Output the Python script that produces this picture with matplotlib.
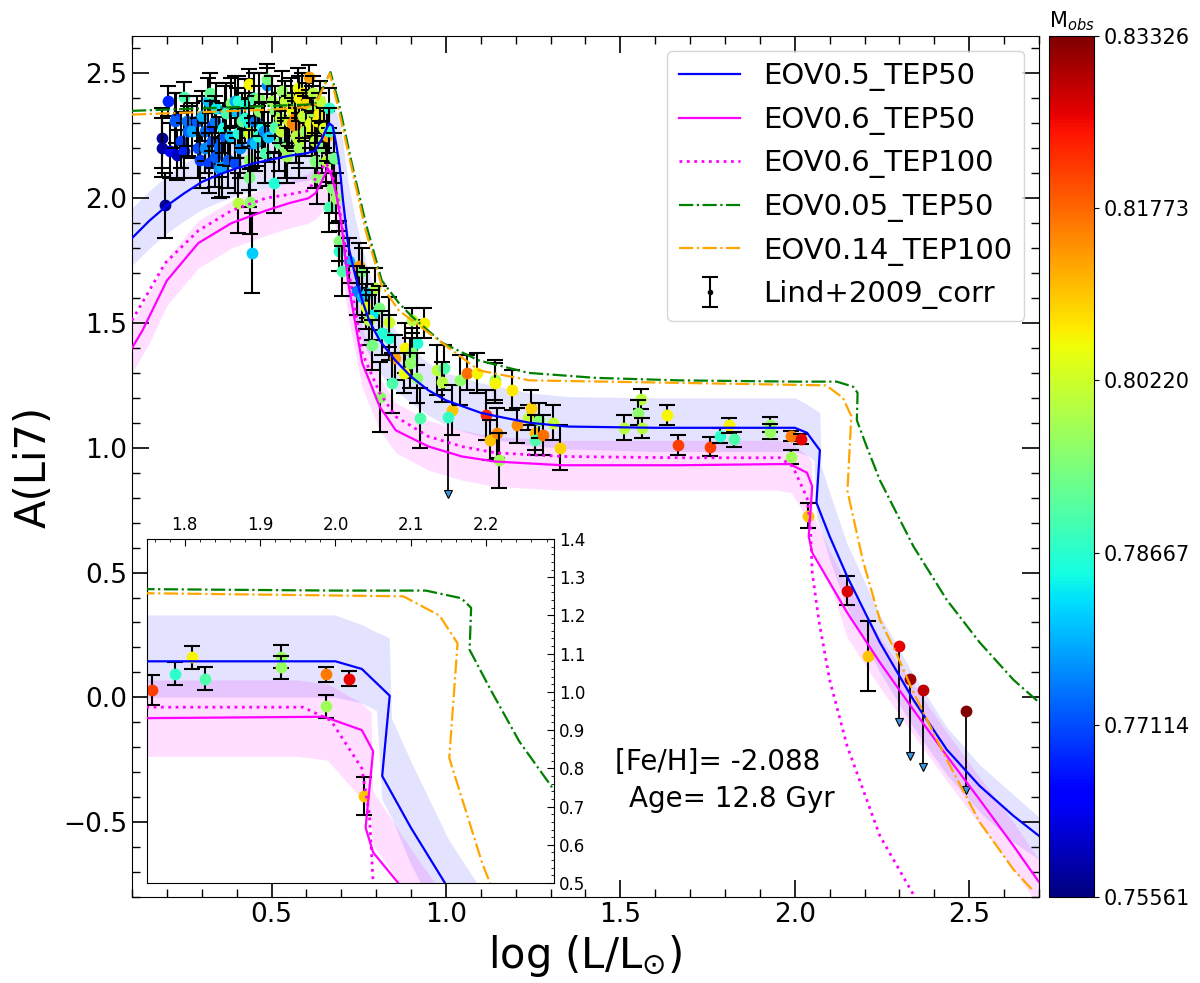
import numpy as np
import matplotlib
matplotlib.use('Agg')
import matplotlib.pyplot as plt
from matplotlib.ticker import MultipleLocator
from matplotlib.colors import Normalize
from matplotlib.cm import ScalarMappable

# ---- model tracks (log L, A(Li7)) ----
x_eov05 = [0.10, 0.15, 0.20, 0.25, 0.30, 0.35, 0.40, 0.45, 0.50, 0.55, 0.60, 0.625, 0.645, 0.665, 0.675,
           0.685, 0.695, 0.705, 0.72, 0.74, 0.76, 0.78, 0.81, 0.855, 0.90, 0.95, 1.00, 1.05, 1.10, 1.15,
           1.24, 1.35, 1.60, 1.80, 2.00, 2.035, 2.072, 2.062, 2.10, 2.15, 2.244, 2.34, 2.436, 2.53, 2.627, 2.70]
y_eov05 = [1.84, 1.91, 1.97, 2.02, 2.065, 2.095, 2.12, 2.14, 2.155, 2.17, 2.18, 2.19, 2.24, 2.30, 2.29,
           2.22, 2.13, 1.99, 1.81, 1.69, 1.59, 1.51, 1.43, 1.35, 1.285, 1.23, 1.19, 1.165, 1.14, 1.125,
           1.10, 1.085, 1.08, 1.08, 1.08, 1.06, 0.99, 0.78, 0.645, 0.485, 0.22, -0.01, -0.21, -0.355, -0.475, -0.555]

band05_x = [0.10, 0.15, 0.20, 0.25, 0.30, 0.35, 0.40, 0.45, 0.50, 0.55, 0.60, 0.625, 0.645, 0.665, 0.675,
            0.685, 0.695, 0.705, 0.72, 0.74, 0.76, 0.78, 0.81, 0.855, 0.90, 0.95, 1.00, 1.05, 1.10, 1.15,
            1.24, 1.35, 1.60, 1.80, 2.00, 2.035, 2.055, 2.062, 2.072, 2.075, 2.10, 2.15, 2.244, 2.34,
            2.436, 2.53, 2.627, 2.70]
band05_hi = [1.96, 2.03, 2.09, 2.14, 2.18, 2.21, 2.24, 2.26, 2.27, 2.29, 2.30, 2.31, 2.34, 2.38, 2.38,
             2.35, 2.30, 2.22, 2.06, 1.92, 1.80, 1.70, 1.58, 1.47, 1.40, 1.34, 1.30, 1.28, 1.26, 1.245,
             1.22, 1.205, 1.20, 1.20, 1.20, 1.175, 1.155, 1.15, 1.14, 0.93, 0.82, 0.615, 0.33, 0.09,
             -0.12, -0.27, -0.39, -0.48]
band05_lo = [1.73, 1.80, 1.86, 1.91, 1.955, 1.985, 2.01, 2.03, 2.045, 2.06, 2.07, 2.08, 2.12, 2.18, 2.16,
             2.07, 1.95, 1.80, 1.60, 1.50, 1.43, 1.37, 1.30, 1.23, 1.18, 1.13, 1.09, 1.065, 1.045, 1.03,
             1.01, 0.995, 0.985, 0.985, 0.985, 0.97, 0.95, 0.72, 0.68, 0.67, 0.55, 0.36, 0.10, -0.12,
             -0.31, -0.46, -0.58, -0.65]

x_eov06 = [0.10, 0.13, 0.20, 0.29, 0.385, 0.483, 0.55, 0.606, 0.626, 0.645, 0.661, 0.672, 0.685, 0.70,
           0.72, 0.74, 0.76, 0.81, 0.856, 0.95, 1.046, 1.14, 1.333, 1.67, 1.985, 2.035, 2.05, 2.040,
           2.05, 2.15, 2.244, 2.34, 2.436, 2.53, 2.627, 2.70]
y_eov06 = [1.40, 1.47, 1.67, 1.82, 1.90, 1.95, 1.98, 2.00, 2.02, 2.07, 2.12, 2.09, 2.02, 1.90,
           1.66, 1.50, 1.34, 1.165, 1.07, 1.005, 0.965, 0.945, 0.93, 0.93, 0.935, 0.90, 0.845, 0.645,
           0.58, 0.34, 0.14, -0.05, -0.235, -0.41, -0.595, -0.74]

band06_x = [0.10, 0.15, 0.20, 0.29, 0.385, 0.483, 0.55, 0.606, 0.63, 0.66, 0.675, 0.69, 0.70, 0.72,
            0.74, 0.76, 0.81, 0.856, 0.95, 1.046, 1.14, 1.333, 1.67, 1.95, 1.99, 2.035, 2.048, 2.05,
            2.10, 2.15, 2.244, 2.34, 2.436, 2.53, 2.627, 2.70]
band06_hi = [1.50, 1.62, 1.76, 1.91, 1.99, 2.04, 2.07, 2.10, 2.13, 2.20, 2.19, 2.10, 2.02, 1.82,
             1.65, 1.48, 1.28, 1.18, 1.11, 1.07, 1.045, 1.03, 1.03, 1.03, 1.02, 0.97, 0.945, 0.74,
             0.59, 0.45, 0.24, 0.05, -0.14, -0.32, -0.50, -0.65]
band06_lo = [1.30, 1.42, 1.57, 1.72, 1.80, 1.85, 1.88, 1.90, 1.92, 1.97, 1.96, 1.82, 1.72, 1.52,
             1.38, 1.24, 1.07, 0.98, 0.91, 0.87, 0.845, 0.83, 0.83, 0.83, 0.82, 0.72, 0.66, 0.60,
             0.46, 0.24, 0.04, -0.15, -0.335, -0.51, -0.69, -0.84]

x_eov06_t100 = [0.10, 0.195, 0.29, 0.385, 0.483, 0.55, 0.606, 0.635, 0.655, 0.672, 0.69, 0.72, 0.76,
                0.81, 0.856, 0.95, 1.046, 1.14, 1.333, 1.67, 1.957, 1.994, 2.035, 2.045, 2.05, 2.07,
                2.10, 2.15, 2.244, 2.34]
y_eov06_t100 = [1.51, 1.74, 1.87, 1.95, 2.00, 2.015, 2.03, 2.10, 2.14, 2.11, 2.00, 1.72, 1.38,
                1.22, 1.125, 1.045, 1.005, 0.98, 0.965, 0.96, 0.96, 0.925, 0.80, 0.68, 0.50, 0.30,
                0.07, -0.195, -0.555, -0.79]

x_eov005 = [0.10, 0.20, 0.30, 0.40, 0.50, 0.60, 0.626, 0.669, 0.693, 0.73, 0.77, 0.816, 0.865, 0.903,
            0.99, 1.094, 1.237, 1.43, 1.67, 2.00, 2.12, 2.167, 2.18, 2.178, 2.206, 2.244, 2.34, 2.436,
            2.53, 2.627, 2.70]
y_eov005 = [2.35, 2.355, 2.36, 2.365, 2.37, 2.375, 2.38, 2.505, 2.38, 2.14, 1.90, 1.67, 1.58, 1.525,
            1.42, 1.35, 1.30, 1.28, 1.27, 1.265, 1.265, 1.245, 1.22, 1.11, 1.005, 0.87, 0.605, 0.39,
            0.22, 0.07, -0.02]

x_eov014 = [0.10, 0.20, 0.30, 0.40, 0.50, 0.60, 0.626, 0.667, 0.69, 0.73, 0.77, 0.816, 0.865, 0.951,
            1.095, 1.24, 1.67, 2.09, 2.138, 2.162, 2.151, 2.195, 2.244, 2.29, 2.34, 2.436, 2.53, 2.627,
            2.68]
y_eov014 = [2.335, 2.34, 2.345, 2.35, 2.355, 2.365, 2.375, 2.50, 2.37, 2.12, 1.87, 1.65, 1.55, 1.46,
            1.31, 1.27, 1.26, 1.25, 1.20, 1.127, 0.827, 0.55, 0.31, 0.18, 0.02, -0.25, -0.50, -0.69,
            -0.77]

# ---- Lind+2009 (corrected) ----
obs_logL = [0.185, 0.185, 0.196, 0.204, 0.209, 0.228, 0.225, 0.224, 0.241, 0.248, 0.248, 0.258, 0.260,
            0.273, 0.287, 0.290, 0.296, 0.300, 0.309, 0.310, 0.319, 0.320, 0.324, 0.329, 0.330, 0.338,
            0.339, 0.340, 0.348, 0.348, 0.357, 0.360, 0.368, 0.368, 0.370, 0.376, 0.380, 0.385, 0.395,
            0.396, 0.400, 0.405, 0.405, 0.405, 0.410, 0.415, 0.424, 0.425, 0.434, 0.434, 0.434, 0.434,
            0.434, 0.439, 0.445, 0.445, 0.450, 0.453, 0.454, 0.460, 0.463, 0.465, 0.472, 0.477, 0.480,
            0.487, 0.487, 0.491, 0.500, 0.506, 0.510, 0.511, 0.520, 0.525, 0.526, 0.530, 0.539, 0.540,
            0.545, 0.549, 0.555, 0.558, 0.560, 0.568, 0.568, 0.570, 0.575, 0.578, 0.578, 0.580, 0.587,
            0.590, 0.595, 0.597, 0.600, 0.607, 0.610, 0.615, 0.617, 0.620, 0.626, 0.626, 0.630, 0.631,
            0.635, 0.640, 0.646, 0.650, 0.655, 0.660, 0.665, 0.665, 0.665, 0.674, 0.680, 0.684,
            0.693, 0.693, 0.702, 0.721, 0.750, 0.760, 0.745, 0.760, 0.774, 0.798, 0.808, 0.770, 0.788,
            0.779, 0.836, 0.817, 0.836, 0.855, 0.788, 0.812, 0.884, 0.918, 0.903, 0.898, 0.879, 0.918,
            0.846, 0.937, 0.903, 0.927, 0.975, 0.995, 0.988, 1.017, 1.040, 1.060, 1.090, 1.140, 1.140,
            1.188, 1.115, 1.127, 1.146, 1.151, 1.205, 1.235, 1.245, 1.256, 1.256, 1.268, 1.278, 1.306,
            1.326, 1.510, 1.560, 1.551, 1.561, 1.633, 1.665, 1.757, 1.787, 1.810, 1.827, 1.928, 1.928,
            1.988, 2.018, 1.988, 2.038, 2.149, 2.209]
obs_ALi = [2.243, 2.203, 1.972, 2.390, 2.190, 2.172, 2.320, 2.310, 2.230, 2.190, 2.405, 2.310, 2.270,
           2.270, 2.310, 2.200, 2.152, 2.330, 2.270, 2.200, 2.390, 2.140, 2.420, 2.230, 2.290, 2.310,
           2.165, 2.360, 2.205, 2.120, 2.125, 2.280, 2.350, 2.245, 2.340, 2.152, 2.250, 2.380, 2.390,
           2.140, 2.340, 2.260, 2.390, 1.979, 2.200, 2.310, 2.379, 2.320, 2.459, 2.300, 2.260, 2.152,
           2.085, 1.985, 1.780, 2.220, 2.400, 2.310, 2.220, 2.250, 2.400, 2.350, 2.285, 2.270, 2.180,
           2.452, 2.479, 2.245, 2.390, 2.060, 2.350, 2.285, 2.220, 2.320, 2.270, 2.430, 2.390, 2.200,
           2.170, 2.310, 2.400, 2.300, 2.350, 2.320, 2.290, 2.250, 2.440, 2.400, 2.230, 2.200, 2.420,
           2.330, 2.270, 2.320, 2.380, 2.485, 2.300, 2.270, 2.350, 2.420, 2.230, 2.150, 2.310, 2.085,
           2.340, 2.390, 2.200, 2.280, 2.150, 2.250, 2.360, 2.270, 1.965, 2.040, 2.160, 2.000,
           1.790, 1.830, 1.710, 1.750, 1.730, 1.710, 1.630, 1.605, 1.620, 1.640, 1.560, 1.565, 1.532,
           1.512, 1.505, 1.460, 1.440, 1.360, 1.412, 1.205, 1.400, 1.420, 1.380, 1.340, 1.300, 1.280,
           1.260, 1.500, 1.510, 1.120, 1.310, 1.320, 1.265, 1.150, 1.270, 1.300, 1.300, 1.270, 1.260,
           1.230, 1.130, 1.030, 1.060, 0.950, 1.090, 1.120, 1.160, 1.060, 1.030, 1.110, 1.050, 1.100,
           1.000, 1.080, 1.195, 1.140, 1.080, 1.130, 1.010, 1.005, 1.048, 1.090, 1.035, 1.092, 1.065,
           1.046, 1.035, 0.963, 0.728, 0.428, 0.165]
obs_err = [0.12, 0.12, 0.13, 0.06, 0.11, 0.10, 0.10, 0.11, 0.11, 0.11, 0.06, 0.10, 0.10,
           0.11, 0.10, 0.12, 0.11, 0.10, 0.12, 0.10, 0.09, 0.12, 0.08, 0.11, 0.10, 0.10,
           0.12, 0.10, 0.12, 0.12, 0.12, 0.10, 0.10, 0.11, 0.12, 0.11, 0.12, 0.10, 0.10,
           0.12, 0.10, 0.10, 0.10, 0.12, 0.12, 0.11, 0.10, 0.10, 0.06, 0.10, 0.10, 0.12,
           0.12, 0.13, 0.16, 0.10, 0.10, 0.10, 0.11, 0.12, 0.10, 0.10, 0.10, 0.11, 0.12,
           0.07, 0.06, 0.10, 0.10, 0.12, 0.10, 0.10, 0.11, 0.10, 0.11, 0.08, 0.08, 0.12,
           0.11, 0.10, 0.08, 0.10, 0.10, 0.10, 0.10, 0.11, 0.08, 0.09, 0.11, 0.12, 0.08,
           0.09, 0.10, 0.09, 0.08, 0.05, 0.10, 0.10, 0.10, 0.07, 0.11, 0.11, 0.09, 0.11,
           0.08, 0.08, 0.10, 0.08, 0.10, 0.10, 0.08, 0.09, 0.10, 0.10, 0.10, 0.10,
           0.08, 0.08, 0.10, 0.09, 0.09, 0.09, 0.10, 0.10, 0.10, 0.08, 0.09, 0.09, 0.10,
           0.10, 0.10, 0.09, 0.09, 0.09, 0.10, 0.14, 0.10, 0.09, 0.10, 0.10, 0.08, 0.10,
           0.12, 0.06, 0.05, 0.12, 0.10, 0.09, 0.08, 0.10, 0.10, 0.07, 0.08, 0.08, 0.08,
           0.08, 0.10, 0.08, 0.10, 0.11, 0.07, 0.05, 0.07, 0.07, 0.06, 0.07, 0.08, 0.07,
           0.09, 0.05, 0.04, 0.05, 0.04, 0.04, 0.04, 0.04, 0.03, 0.03, 0.03, 0.03, 0.03,
           0.02, 0.02, 0.03, 0.05, 0.06, 0.14]
obs_mass = [0.758, 0.758, 0.757, 0.768, 0.765, 0.760, 0.770, 0.772, 0.770, 0.768, 0.790, 0.774, 0.773,
            0.778, 0.772, 0.771, 0.770, 0.779, 0.774, 0.776, 0.780, 0.770, 0.792, 0.772, 0.770, 0.775,
            0.772, 0.783, 0.773, 0.776, 0.778, 0.785, 0.774, 0.772, 0.790, 0.772, 0.780, 0.795, 0.778,
            0.771, 0.780, 0.786, 0.786, 0.800, 0.776, 0.792, 0.786, 0.787, 0.806, 0.785, 0.803, 0.796,
            0.794, 0.796, 0.781, 0.774, 0.790, 0.774, 0.780, 0.787, 0.796, 0.796, 0.785, 0.776, 0.790,
            0.776, 0.794, 0.780, 0.798, 0.786, 0.795, 0.790, 0.792, 0.800, 0.801, 0.797, 0.801, 0.796,
            0.798, 0.802, 0.800, 0.815, 0.805, 0.815, 0.815, 0.800, 0.805, 0.806, 0.801, 0.798, 0.807,
            0.802, 0.797, 0.801, 0.808, 0.813, 0.804, 0.806, 0.797, 0.800, 0.800, 0.795, 0.806, 0.796,
            0.806, 0.801, 0.795, 0.803, 0.800, 0.812, 0.787, 0.787, 0.789, 0.795, 0.793, 0.797,
            0.787, 0.795, 0.790, 0.780, 0.813, 0.794, 0.775, 0.779, 0.781, 0.800, 0.794, 0.805, 0.783,
            0.800, 0.802, 0.786, 0.786, 0.813, 0.794, 0.796, 0.806, 0.786, 0.795, 0.796, 0.805, 0.796,
            0.790, 0.806, 0.800, 0.790, 0.800, 0.790, 0.800, 0.810, 0.796, 0.817, 0.806, 0.796, 0.806,
            0.807, 0.823, 0.810, 0.815, 0.798, 0.815, 0.801, 0.809, 0.811, 0.790, 0.795, 0.817, 0.801,
            0.809, 0.800, 0.800, 0.796, 0.800, 0.806, 0.821, 0.821, 0.787, 0.806, 0.790, 0.797, 0.797,
            0.816, 0.826, 0.798, 0.810, 0.827, 0.810]

# upper limits
ul_logL = [1.007, 2.299, 2.329, 2.369, 2.490]
ul_ALi = [1.125, 0.205, 0.072, 0.030, -0.055]
ul_end = [0.815, -0.100, -0.237, -0.280, -0.370]
ul_mass = [0.788, 0.826, 0.831, 0.829, 0.833]

m_min, m_max = 0.75561, 0.83326
cbar_ticks = [0.75561, 0.77114, 0.78667, 0.80220, 0.81773, 0.83326]

plt.rcParams['font.family'] = 'DejaVu Sans'
norm = Normalize(vmin=m_min, vmax=m_max)


def draw(ax, cs=5.5):
    ax.fill_between(band05_x, band05_lo, band05_hi, color='blue', alpha=0.11, lw=0, zorder=1)
    ax.fill_between(band06_x, band06_lo, band06_hi, color='magenta', alpha=0.13, lw=0, zorder=1)
    for x, y, e, m in zip(obs_logL, obs_ALi, obs_err, obs_mass):
        ax.errorbar(x, y, yerr=e, fmt='none', ecolor='k', elinewidth=1.5, capsize=cs,
                    capthick=1.5, zorder=2)
        ax.scatter([x], [y], c=[m], cmap='jet', norm=norm, s=72, linewidths=0, zorder=2)
    for x, y, ye, m in zip(ul_logL, ul_ALi, ul_end, ul_mass):
        ax.plot([x, x], [y, ye], color='k', lw=1.3, zorder=2)
        ax.plot(x, ye, 'v', ms=6, mfc='#3a96dd', mec='k', mew=0.8, zorder=2)
        ax.scatter([x], [y], c=[m], cmap='jet', norm=norm, s=72, linewidths=0, zorder=2)
    l1, = ax.plot(x_eov05, y_eov05, color='blue', lw=1.6, zorder=4, label='EOV0.5_TEP50')
    l2, = ax.plot(x_eov06, y_eov06, color='magenta', lw=1.6, zorder=4, label='EOV0.6_TEP50')
    l3, = ax.plot(x_eov06_t100, y_eov06_t100, color='magenta', ls=':', lw=2, zorder=4,
                  label='EOV0.6_TEP100')
    l4, = ax.plot(x_eov005, y_eov005, color='green', ls='-.', lw=1.6, zorder=4, label='EOV0.05_TEP50')
    l5, = ax.plot(x_eov014, y_eov014, color='orange', ls='-.', lw=1.6, zorder=4,
                  label='EOV0.14_TEP100')
    return [l1, l2, l3, l4, l5]


fig = plt.figure(figsize=(12, 9.83), dpi=100)
ax = fig.add_axes([0.11, 0.0875, 0.7558, 0.8759])
lines = draw(ax)
eb = ax.errorbar([-10], [-10], yerr=[0.1], fmt='.', color='k', ms=6, capsize=6,
                 elinewidth=1.5, capthick=1.5, label='Lind+2009_corr')
ax.set_xlim(0.1, 2.7)
ax.set_ylim(-0.8, 2.65)
ax.xaxis.set_major_locator(MultipleLocator(0.5))
ax.xaxis.set_minor_locator(MultipleLocator(0.1))
ax.yaxis.set_major_locator(MultipleLocator(0.5))
ax.yaxis.set_minor_locator(MultipleLocator(0.1))
ax.tick_params(which='both', direction='in', top=True, right=True, labelsize=19)
ax.tick_params(which='major', length=12, width=1.2)
ax.tick_params(which='minor', length=6, width=1)
ax.set_xlabel(r'log (L/L$_{\odot}$)', fontsize=30)
ax.set_ylabel('A(Li7)', fontsize=30, labelpad=6)
ax.legend(handles=lines + [eb], loc='upper right', fontsize=21, handlelength=2.1)

ax.text(1.486, -0.26, '[Fe/H]= -2.088', fontsize=20, va='center')
ax.text(1.526, -0.408, 'Age= 12.8 Gyr', fontsize=20, va='center')

# zoomed inset
axin = fig.add_axes([0.1225, 0.1017, 0.3392, 0.350])
draw(axin)
axin.set_xlim(1.75, 2.29)
axin.set_ylim(0.5, 1.4)
axin.xaxis.tick_top()
axin.yaxis.tick_right()
axin.xaxis.set_major_locator(MultipleLocator(0.1))
axin.xaxis.set_minor_locator(MultipleLocator(0.02))
axin.yaxis.set_major_locator(MultipleLocator(0.1))
axin.yaxis.set_minor_locator(MultipleLocator(0.02))
axin.tick_params(which='both', direction='in', labelsize=12)
axin.tick_params(which='major', length=5)
axin.tick_params(which='minor', length=2.5)

# colorbar
cax = fig.add_axes([0.8742, 0.0875, 0.0375, 0.8759])
sm = ScalarMappable(norm=norm, cmap='jet')
cb = fig.colorbar(sm, cax=cax, ticks=cbar_ticks)
cb.ax.set_yticklabels(['%.5f' % t for t in cbar_ticks])
cb.ax.tick_params(labelsize=15)
cb.ax.set_title('M$_{obs}$', fontsize=15)

fig.savefig('out.png', dpi=100)
